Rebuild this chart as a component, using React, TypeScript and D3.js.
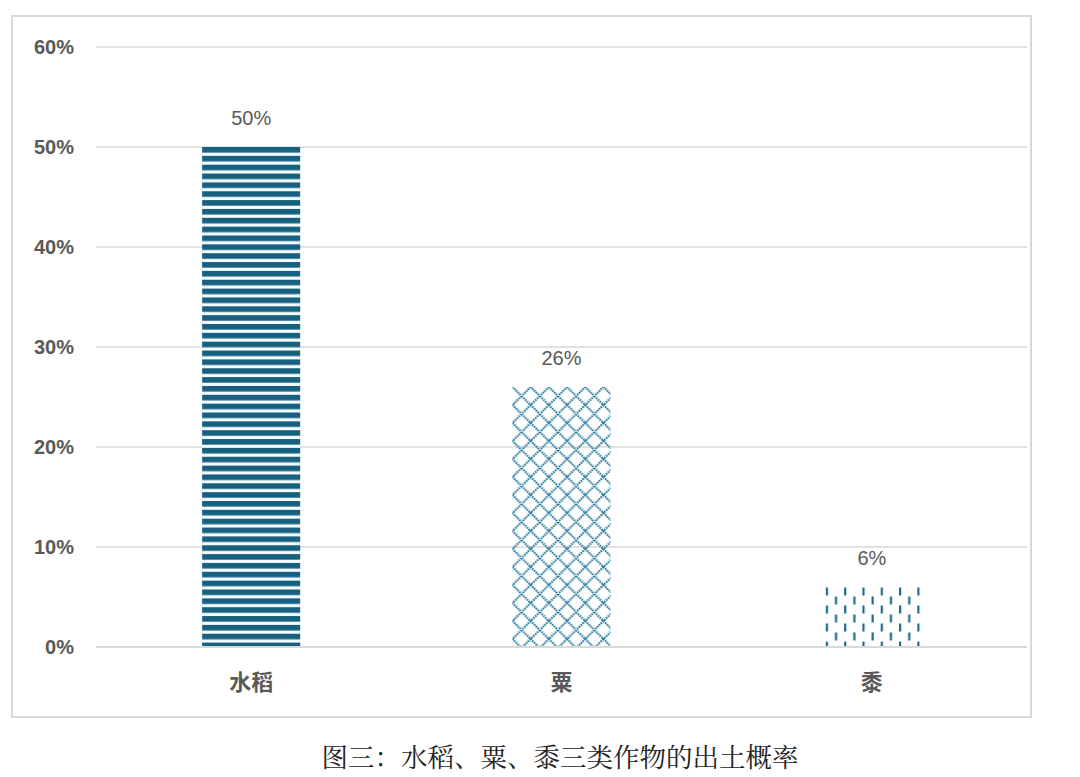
import React from "react";
import * as d3 from "d3";

const categories = ["水稻", "粟", "黍"];
const values = [0.5, 0.26, 0.06];
const valueLabels = ["50%", "26%", "6%"];
const yTicks = [0, 0.1, 0.2, 0.3, 0.4, 0.5, 0.6];
const caption = "图三：水稻、粟、黍三类作物的出土概率";
const patternIds = ["pat-hstripe", "pat-diamond", "pat-vdash"];

const W = 1080;
const H = 777;
const plotLeft = 96;
const plotRight = 1027;
const plotTop = 47;
const plotBottom = 647;

export default function App() {
  const x = d3
    .scaleBand<string>()
    .domain(categories)
    .range([plotLeft, plotRight])
    .paddingInner(0.684)
    .paddingOuter(0.342);
  const y = d3.scaleLinear().domain([0, 0.6]).range([plotBottom, plotTop]);
  const fmt = d3.format(".0%");
  const latin = "'Liberation Sans', Arial, 'Noto Sans CJK SC', sans-serif";
  const cjk = "'Noto Sans CJK SC', 'Liberation Sans', sans-serif";

  return (
    <svg
      width={W}
      height={H}
      viewBox={`0 0 ${W} ${H}`}
      style={{ position: "absolute", left: 0, top: 0, background: "#fff" }}
    >
      <defs>
        <pattern
          id={patternIds[0]}
          patternUnits="userSpaceOnUse"
          width={8}
          height={8.85}
          y={y(values[0])}
        >
          <rect width={8} height={8.85} fill="#f4fafd" />
          <rect width={8} height={5.6} fill="#17607f" />
        </pattern>
        <pattern
          id={patternIds[1]}
          patternUnits="userSpaceOnUse"
          width={18.2}
          height={18}
          x={(x(categories[1]) ?? 0) - 9.1}
          y={y(values[1]) - 9}
        >
          <path
            d="M0,0 L18.2,18 M18.2,0 L0,18"
            stroke="#2d7fa2"
            strokeWidth={2.2}
            strokeDasharray="1.6 0.9"
            fill="none"
          />
        </pattern>
        <pattern
          id={patternIds[2]}
          patternUnits="userSpaceOnUse"
          width={18.3}
          height={18}
          x={(x(categories[2]) ?? 0) + 3}
          y={y(values[2]) - 6}
        >
          <rect x={0} y={6.5} width={2.2} height={8} fill="#1f6a8c" />
          <rect x={9.15} y={-2.5} width={2.2} height={8} fill="#1f6a8c" />
          <rect x={9.15} y={15.5} width={2.2} height={8} fill="#1f6a8c" />
        </pattern>
      </defs>

      <rect
        x={12}
        y={16}
        width={1019}
        height={701}
        fill="#fff"
        stroke="#d9d9d9"
        strokeWidth={2}
      />

      {yTicks.map((t) => (
        <g key={t}>
          <line
            x1={plotLeft}
            x2={plotRight}
            y1={y(t)}
            y2={y(t)}
            stroke="#d9d9d9"
            strokeWidth={1.5}
          />
          <text
            x={74}
            y={y(t)}
            dy="0.36em"
            textAnchor="end"
            fontFamily={latin}
            fontSize={20}
            fontWeight={700}
            fill="#595959"
          >
            {fmt(t)}
          </text>
        </g>
      ))}

      {categories.map((c, i) => {
        const bx = x(c) ?? 0;
        const bw = x.bandwidth();
        return (
          <g key={c}>
            <rect
              x={bx}
              y={y(values[i])}
              width={bw}
              height={y(0) - y(values[i])}
              fill={`url(#${patternIds[i]})`}
            />
            <text
              x={bx + bw / 2}
              y={y(values[i]) - 22}
              textAnchor="middle"
              fontFamily={latin}
              fontSize={20}
              fill="#595959"
            >
              {valueLabels[i]}
            </text>
            <text
              x={bx + bw / 2}
              y={plotBottom + 35}
              dy="0.36em"
              textAnchor="middle"
              fontFamily={cjk}
              fontSize={22}
              fontWeight={700}
              fill="#595959"
            >
              {c}
            </text>
          </g>
        );
      })}

      <line
        x1={plotLeft}
        x2={plotRight}
        y1={y(0)}
        y2={y(0)}
        stroke="#d9d9d9"
        strokeWidth={2}
      />

      <text
        x={560}
        y={757}
        dy="0.36em"
        textAnchor="middle"
        fontFamily="'Noto Serif CJK SC', 'Noto Sans CJK SC', serif"
        fontSize={26.5}
        fill="#222222"
      >
        {caption}
      </text>
    </svg>
  );
}
